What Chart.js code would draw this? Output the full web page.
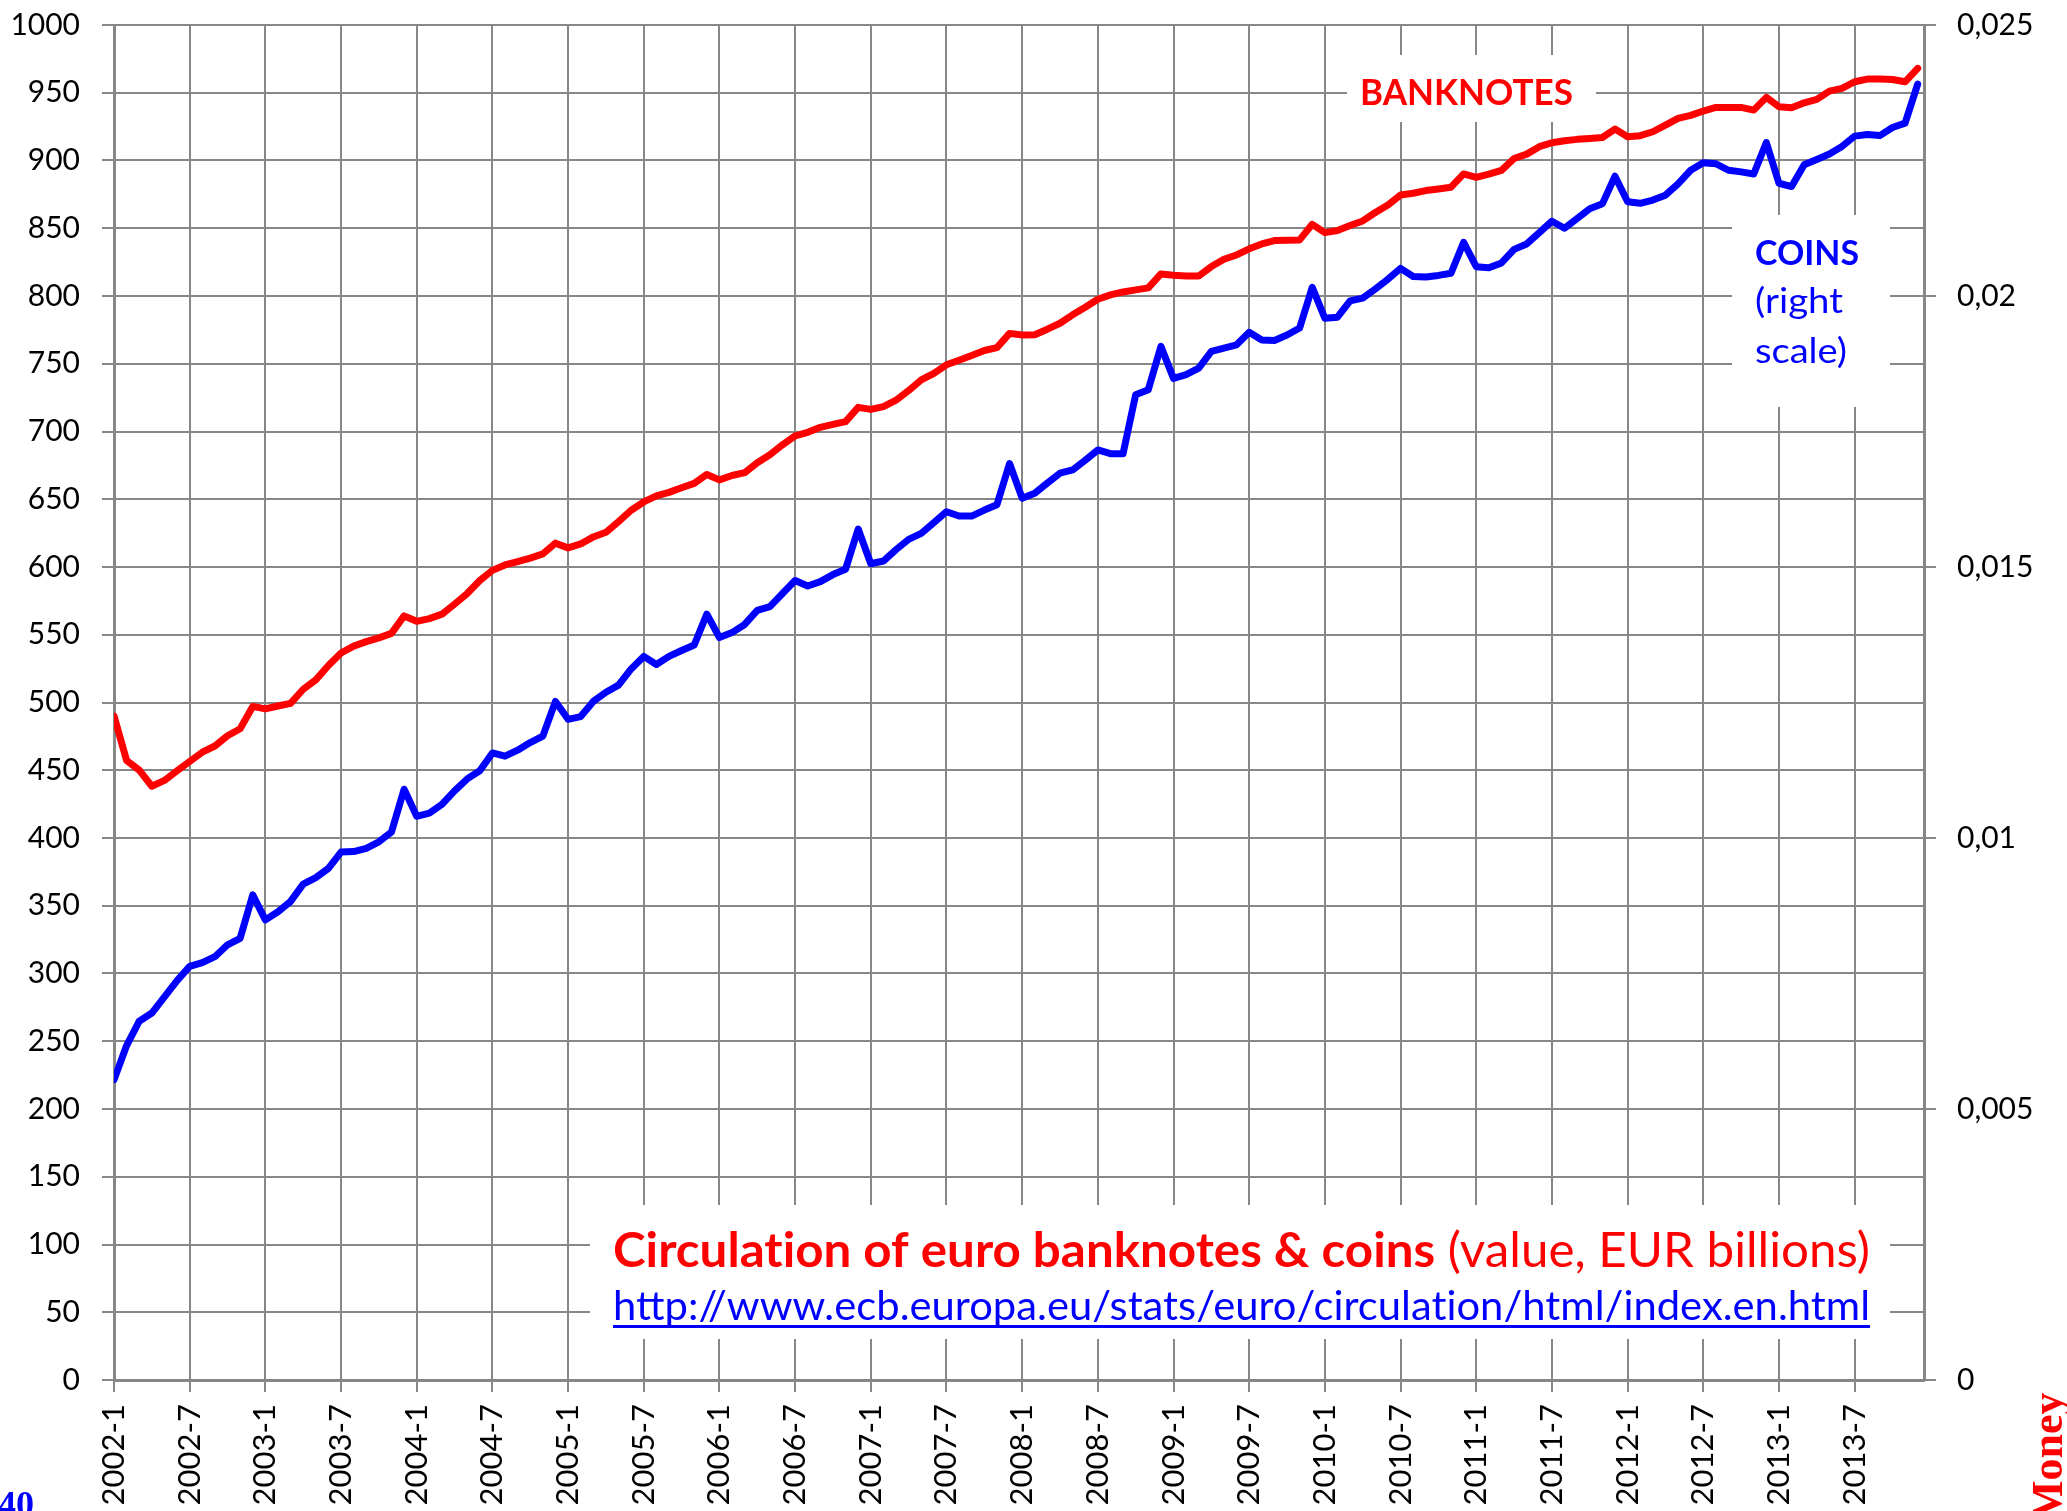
<!DOCTYPE html>
<html>
<head>
<meta charset="utf-8">
<title>Circulation of euro banknotes & coins</title>
<script src="https://cdn.jsdelivr.net/npm/chart.js@4.4.1/dist/chart.umd.min.js"></script>
<style>
  html, body { margin: 0; padding: 0; background: #fff; }
  #wrap { position: relative; width: 2067px; height: 1511px; }
</style>
</head>
<body>
<div id="wrap"><canvas id="chart" width="2067" height="1511"></canvas></div>
<script>
// x axis: one point per month, 2002-1 .. 2013-12, labelled every 6 months
const xTickLabels = [
  "2002-1", "2002-7", "2003-1", "2003-7", "2004-1", "2004-7",
  "2005-1", "2005-7", "2006-1", "2006-7", "2007-1", "2007-7",
  "2008-1", "2008-7", "2009-1", "2009-7", "2010-1", "2010-7",
  "2011-1", "2011-7", "2012-1", "2012-7", "2013-1", "2013-7",
];
const monthsPerTick = 6;

// banknotes, left scale (EUR billions)
const banknotes = [
  490.0, 457.2, 450.1, 438.2, 442.5, 449.6, 456.5, 463.3, 467.9, 475.5, 480.6, 497.1, // 2002
  495.3, 497.4, 499.4, 509.8, 516.7, 527.3, 536.5, 541.6, 544.9, 547.7, 551.0, 563.9, // 2003
  559.9, 561.9, 565.2, 572.6, 580.4, 590.0, 597.5, 601.5, 604.0, 606.6, 609.7, 617.6, // 2004
  614.1, 617.0, 622.2, 625.6, 633.5, 641.9, 648.0, 652.5, 655.1, 658.5, 661.7, 668.3, // 2005
  664.3, 667.5, 669.6, 677.0, 682.8, 690.2, 696.8, 699.4, 703.1, 705.2, 707.3, 717.8, // 2006
  716.3, 718.4, 723.1, 730.2, 738.1, 742.9, 749.2, 752.6, 756.1, 759.8, 761.9, 772.4, // 2007
  771.2, 771.4, 775.5, 779.9, 786.1, 791.7, 797.6, 800.8, 803.0, 804.5, 806.0, 816.3, // 2008
  815.3, 814.8, 814.8, 821.7, 827.1, 830.3, 834.8, 838.4, 840.9, 841.1, 841.4, 852.9, // 2009
  846.8, 848.3, 852.0, 855.4, 861.6, 867.2, 874.6, 875.8, 877.8, 879.0, 880.3, 890.1, // 2010
  887.6, 890.0, 892.7, 901.5, 904.7, 910.2, 913.1, 914.6, 915.6, 916.3, 917.0, 923.2, // 2011
  917.5, 918.3, 921.2, 926.1, 931.1, 933.3, 936.5, 939.2, 939.2, 939.2, 937.2, 946.6, // 2012
  939.7, 938.9, 942.6, 945.1, 951.2, 953.2, 958.1, 960.1, 960.1, 959.8, 958.1, 968.0, // 2013
];

// coins, right scale
const coins = [
  0.00554, 0.00617, 0.00662, 0.00677, 0.00707, 0.00737, 0.00763, 0.00770, 0.00781, 0.00803, 0.00815, 0.00895, // 2002
  0.00849, 0.00864, 0.00883, 0.00915, 0.00927, 0.00944, 0.00974, 0.00975, 0.00981, 0.00993, 0.01011, 0.01090, // 2003
  0.01040, 0.01046, 0.01062, 0.01087, 0.01109, 0.01124, 0.01157, 0.01151, 0.01162, 0.01176, 0.01188, 0.01252, // 2004
  0.01219, 0.01224, 0.01252, 0.01269, 0.01282, 0.01312, 0.01335, 0.01320, 0.01335, 0.01346, 0.01356, 0.01413, // 2005
  0.01370, 0.01379, 0.01394, 0.01420, 0.01427, 0.01451, 0.01475, 0.01465, 0.01473, 0.01486, 0.01496, 0.01570, // 2006
  0.01506, 0.01511, 0.01532, 0.01551, 0.01562, 0.01582, 0.01602, 0.01594, 0.01594, 0.01605, 0.01615, 0.01691, // 2007
  0.01627, 0.01636, 0.01655, 0.01673, 0.01679, 0.01697, 0.01716, 0.01709, 0.01709, 0.01818, 0.01827, 0.01907, // 2008
  0.01848, 0.01855, 0.01867, 0.01898, 0.01904, 0.01910, 0.01933, 0.01919, 0.01918, 0.01928, 0.01941, 0.02016, // 2009
  0.01959, 0.01961, 0.01991, 0.01996, 0.02013, 0.02031, 0.02051, 0.02036, 0.02035, 0.02038, 0.02042, 0.02099, // 2010
  0.02054, 0.02052, 0.02061, 0.02086, 0.02096, 0.02117, 0.02138, 0.02125, 0.02143, 0.02161, 0.02170, 0.02221, // 2011
  0.02174, 0.02171, 0.02177, 0.02186, 0.02207, 0.02232, 0.02246, 0.02244, 0.02232, 0.02229, 0.02225, 0.02283, // 2012
  0.02208, 0.02202, 0.02242, 0.02252, 0.02262, 0.02276, 0.02295, 0.02298, 0.02296, 0.02311, 0.02319, 0.02391, // 2013
];

const rightTickValues = [0, 0.005, 0.01, 0.015, 0.02, 0.025];
const rightTickLabels = ["0", "0,005", "0,01", "0,015", "0,02", "0,025"];

const RED = "#ff0000";
const BLUE = "#0000ff";
const GRID = "#878787";
const ZWNJ = "\u200C"; // keeps Lato from drawing a "ti" ligature

Chart.defaults.font.family = "Lato";
Chart.defaults.color = "#000";

function toPoints(values) {
  return values.map((v, i) => ({ x: i, y: v }));
}

// axis sizes are fixed so the plot area sits where the original has it
function fixSize(size) {
  return (scale) => {
    if (scale.isHorizontal()) scale.height = size;
    else scale.width = size;
    scale.paddingTop = 0;
    scale.paddingBottom = 0;
    scale.paddingLeft = 0;
    scale.paddingRight = 0;
  };
}

// draws text runs squeezed horizontally to fill a given width (the original uses Calibri)
function fitText(ctx, parts, x, y, width) {
  let total = 0;
  parts.forEach((p) => {
    ctx.font = p.font;
    p.w = ctx.measureText(p.text).width;
    total += p.w;
  });
  ctx.save();
  ctx.translate(x, y);
  ctx.scale(width / total, 1);
  ctx.textAlign = "left";
  ctx.textBaseline = "alphabetic";
  let cx = 0;
  parts.forEach((p) => {
    ctx.font = p.font;
    ctx.fillStyle = p.color;
    ctx.fillText(p.text, cx, 0);
    cx += p.w;
  });
  ctx.restore();
}

const notesPlugin = {
  id: "notes",
  beforeDatasetsDraw(chart) {
    const ctx = chart.ctx;
    ctx.save();
    // white boxes behind the labels hide the grid
    ctx.fillStyle = "#fff";
    ctx.fillRect(1347, 55, 249, 67);
    ctx.fillRect(1732, 215, 158, 192);
    ctx.fillRect(590, 1205, 1300, 134);

    fitText(ctx, [{ text: "BANKNOTES", font: "bold 36px Lato", color: RED }], 1360, 105, 213);

    fitText(ctx, [{ text: "COINS", font: "bold 35px Lato", color: BLUE }], 1755, 265, 104);
    fitText(ctx, [{ text: "(right", font: "35px Lato", color: BLUE }], 1755, 313, 88);
    fitText(ctx, [{ text: "scale)", font: "35px Lato", color: BLUE }], 1755, 363, 92);

    fitText(ctx, [
      { text: "Circulat" + ZWNJ + "ion of euro banknotes & coins", font: "bold 48px Lato", color: RED },
      { text: " (value, EUR billions)", font: "48px Lato", color: RED },
    ], 613, 1267, 1257);
    fitText(ctx, [
      {
        text: "http://www.ecb.europa.eu/stats/euro/circulat" + ZWNJ + "ion/html/index.en.html",
        font: "40px Lato",
        color: BLUE,
      },
    ], 613, 1320, 1257);
    ctx.fillStyle = BLUE;
    ctx.fillRect(613, 1325, 1257, 3);
    ctx.restore();
  },
  afterDraw(chart) {
    const ctx = chart.ctx;
    // page fragments cut by the image edge
    ctx.save();
    ctx.translate(2062, 1522);
    ctx.rotate(-Math.PI / 2);
    ctx.font = "bold 44px 'Liberation Serif'";
    ctx.fillStyle = RED;
    ctx.fillText("Money", 0, 0);
    ctx.restore();

    ctx.save();
    ctx.font = "bold 36px 'Liberation Serif'";
    ctx.fillStyle = BLUE;
    ctx.fillText("40", -2, 1516);
    ctx.restore();
  },
};

new Chart(document.getElementById("chart"), {
  type: "line",
  data: {
    datasets: [
      {
        label: "Banknotes",
        data: toPoints(banknotes),
        yAxisID: "y",
        borderColor: RED,
        borderWidth: 7,
        borderJoinStyle: "round",
        borderCapStyle: "round",
        pointRadius: 0,
        tension: 0,
      },
      {
        label: "Coins",
        data: toPoints(coins),
        yAxisID: "y1",
        borderColor: BLUE,
        borderWidth: 7,
        borderJoinStyle: "round",
        borderCapStyle: "round",
        pointRadius: 0,
        tension: 0,
      },
    ],
  },
  options: {
    responsive: false,
    animation: false,
    layout: { padding: { top: 25, left: 0, right: 0, bottom: 0 } },
    plugins: {
      legend: { display: false },
      tooltip: { enabled: false },
    },
    scales: {
      x: {
        type: "linear",
        min: 0,
        max: 143.5,
        afterBuildTicks: (scale) => {
          scale.ticks = xTickLabels.map((_, k) => ({ value: k * monthsPerTick }));
        },
        afterFit: fixSize(131),
        ticks: {
          autoSkip: false,
          minRotation: 90,
          maxRotation: 90,
          padding: 12,
          font: { size: 31 },
          callback: (value) => xTickLabels[value / monthsPerTick],
        },
        grid: { color: GRID, lineWidth: 2, tickLength: 12 },
        border: { color: GRID, width: 3 },
      },
      y: {
        position: "left",
        min: 0,
        max: 1000,
        afterFit: fixSize(114),
        ticks: {
          stepSize: 50,
          padding: 22,
          font: { size: 30 },
          callback: (value) => String(value),
        },
        grid: { color: GRID, lineWidth: 2, tickLength: 12 },
        border: { color: GRID, width: 3 },
      },
      y1: {
        position: "right",
        min: 0,
        max: 0.025,
        afterBuildTicks: (scale) => {
          scale.ticks = rightTickValues.map((v) => ({ value: v }));
        },
        afterFit: fixSize(143),
        ticks: {
          padding: 21,
          font: { size: 30 },
          callback: (value, index) => rightTickLabels[index],
        },
        grid: { drawOnChartArea: false, color: GRID, lineWidth: 2, tickLength: 12 },
        border: { color: GRID, width: 3 },
      },
    },
  },
  plugins: [notesPlugin],
});
</script>
</body>
</html>
